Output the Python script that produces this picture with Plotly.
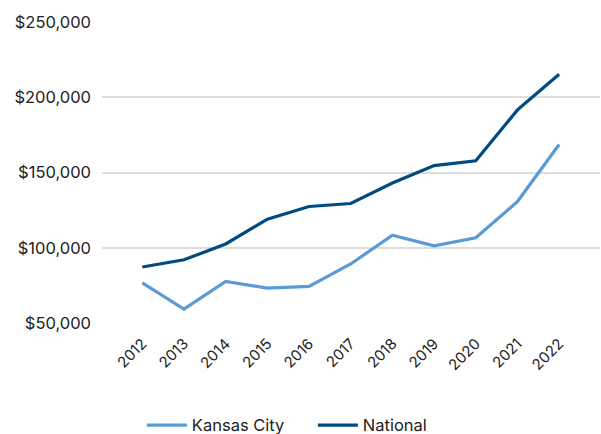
import plotly.graph_objects as go

years = ["2012", "2013", "2014", "2015", "2016", "2017", "2018", "2019", "2020", "2021", "2022"]
kansas_city = [76600, 59300, 77600, 73200, 74300, 89200, 108400, 101300, 106600, 130700, 168600]
national = [87200, 92000, 102500, 119000, 127400, 129400, 143000, 154600, 157800, 191600, 215300]
y_ticks = [50000, 100000, 150000, 200000, 250000]
y_tick_labels = ["$50,000", "$100,000", "$150,000", "$200,000", "$250,000"]

font_family = "Inter, 'Noto Sans', sans-serif"

fig = go.Figure()
fig.add_trace(go.Scatter(x=list(range(len(years))), y=kansas_city, name="Kansas City", mode="lines",
                         line=dict(color="#5b9bd5", width=3.2)))
fig.add_trace(go.Scatter(x=list(range(len(years))), y=national, name="National", mode="lines",
                         line=dict(color="#004a80", width=3.2)))

fig.update_layout(
    width=601, height=434,
    margin=dict(l=102, r=1, t=22, b=111, autoexpand=False),
    plot_bgcolor="white", paper_bgcolor="white",
    font=dict(family=font_family, size=16, color="#222222"),
    showlegend=True,
    legend=dict(orientation="h", x=0.08, xanchor="left", yref="container", y=0.02, yanchor="middle",
                font=dict(size=16.5), itemwidth=40, entrywidth=116, entrywidthmode="pixels",
                traceorder="normal"),
    xaxis=dict(range=[-0.967, 10.98], tickmode="array", tickvals=list(range(len(years))),
               ticktext=years, tickangle=-45, showgrid=False, zeroline=False, automargin=False,
               showline=False, tickfont=dict(size=15), ticklabelstandoff=8),
    yaxis=dict(range=[50000, 250000], tickmode="array", tickvals=y_ticks, ticktext=y_tick_labels,
               showgrid=True, gridcolor="#dcdcdc", gridwidth=1.5, zeroline=False, showline=False,
               automargin=False, ticks="", ticklen=0, tickfont=dict(size=16.5), ticklabelstandoff=10),
)
fig.write_html("out.html", config={"displayModeBar": False},
               post_script="document.body.style.margin='0';document.body.style.overflow='hidden';")
